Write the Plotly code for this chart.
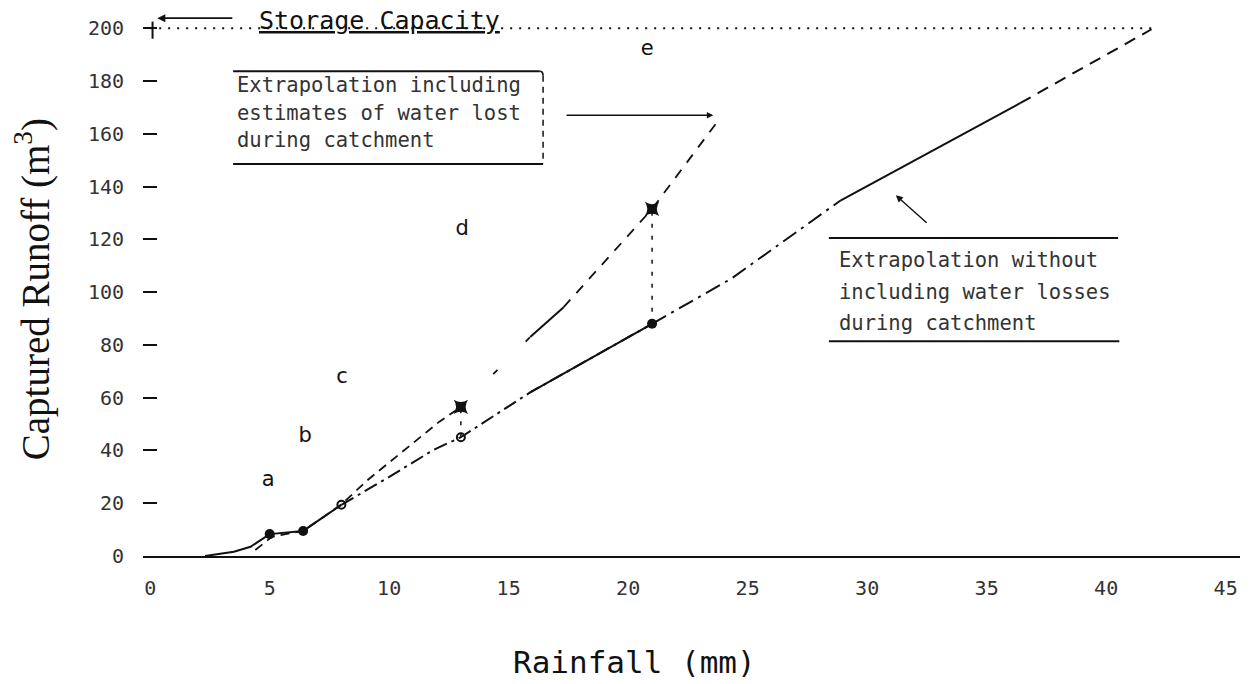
import plotly.graph_objects as go

# ---- data ----
# Extrapolation without including water losses
without_x = [2.3, 3.5, 4.2, 5.0, 6.4, 8.0, 9.9, 11.85, 13.0, 15.9, 21.0, 24.3, 28.9, 36.4, 41.9]
without_y = [0.0, 1.6, 3.5, 8.3, 9.5, 19.4, 29.4, 40.2, 45.0, 62.0, 88.0, 105.0, 134.8, 171.6, 199.6]

# Extrapolation including estimates of water lost
with_x = [4.4, 5.1, 6.4, 8.0, 9.1, 12.1, 13.0, 15.9, 17.3, 21.0, 23.85]
with_y = [2.3, 7.3, 9.5, 19.5, 28.8, 50.9, 56.5, 83.0, 94.3, 131.5, 166.0]

# measured points (filled circles)
meas_x = [5.0, 6.4, 21.0]
meas_y = [8.3, 9.5, 88.0]
# estimates including losses (star-squares)
est_x = [13.0, 21.0]
est_y = [56.5, 131.5]
# small open marks on the no-loss line
open_x = [8.0, 13.0]
open_y = [19.4, 45.0]

storage_capacity = 200
rain_ticks = [0, 5, 10, 15, 20, 25, 30, 35, 40, 45]
runoff_ticks = [0, 20, 40, 60, 80, 100, 120, 140, 160, 180, 200]

letters = ["a", "b", "c", "d", "e"]
letter_x = [4.94, 6.49, 8.03, 13.05, 20.8]
letter_y = [28.4, 45.1, 67.4, 123.5, 191.7]

box1_lines = ["Extrapolation including", "estimates of water lost", "during catchment"]
box2_lines = ["Extrapolation without", "including water losses", "during catchment"]

MONO = "DejaVu Sans Mono"
INK = "#111111"

fig = go.Figure()

# storage capacity dotted line
fig.add_trace(go.Scatter(x=[0, without_x[-1]], y=[storage_capacity, storage_capacity], mode="lines",
                         line=dict(color=INK, width=2, dash="2px,7px"), hoverinfo="skip"))
fig.add_trace(go.Scatter(x=[0.1, 0.1], y=[storage_capacity - 4, storage_capacity + 2.5], mode="lines",
                         line=dict(color=INK, width=2), hoverinfo="skip"))

# no-loss curve: solid start, dash-dot middle, solid stretch, dashed end
segs = [(0, 6, "solid"), (5, 11, "14px,5px,3px,5px"), (9, 11, "solid"),
        (10, 13, "16px,6px,3px,6px"), (12, 14, "solid"), (13, 15, "12px,8px")]
for a, b, d in segs:
    fig.add_trace(go.Scatter(x=without_x[a:b], y=without_y[a:b], mode="lines",
                             line=dict(color=INK, width=2, dash=d), hoverinfo="skip"))

# with-loss curve
fig.add_trace(go.Scatter(x=with_x[:7], y=with_y[:7], mode="lines",
                         line=dict(color=INK, width=1.8, dash="9px,6px"), hoverinfo="skip"))
fig.add_trace(go.Scatter(x=with_x[6:8], y=with_y[6:8], mode="lines",
                         line=dict(color=INK, width=1.8, dash="6px,40px"), hoverinfo="skip"))
fig.add_trace(go.Scatter(x=with_x[7:9], y=with_y[7:9], mode="lines",
                         line=dict(color=INK, width=2), hoverinfo="skip"))
fig.add_trace(go.Scatter(x=with_x[8:], y=with_y[8:], mode="lines",
                         line=dict(color=INK, width=1.8, dash="10px,9px"), hoverinfo="skip"))

# vertical connectors between estimates and measurements
for i in range(len(est_x)):
    lo = open_y[1] if i == 0 else meas_y[2]
    fig.add_trace(go.Scatter(x=[est_x[i], est_x[i]], y=[lo, est_y[i]], mode="lines",
                             line=dict(color=INK, width=1.5, dash="4px,8px"), hoverinfo="skip"))

# markers
fig.add_trace(go.Scatter(x=meas_x, y=meas_y, mode="markers",
                         marker=dict(symbol="circle", size=10, color=INK), hoverinfo="skip"))
fig.add_trace(go.Scatter(x=est_x, y=est_y, mode="markers",
                         marker=dict(symbol="star-square", size=13, color=INK), hoverinfo="skip"))
fig.add_trace(go.Scatter(x=open_x, y=open_y, mode="markers",
                         marker=dict(symbol="circle-open", size=8, color=INK, line=dict(width=2)),
                         hoverinfo="skip"))

# letter labels
fig.add_trace(go.Scatter(x=letter_x, y=letter_y, mode="text", text=letters,
                         textfont=dict(family="DejaVu Sans", size=21, color=INK), hoverinfo="skip"))

annotations = []
# box 1 text
for t, yy in zip(box1_lines, [178.4, 167.8, 157.6]):
    annotations.append(dict(x=3.55, y=yy, xref="x", yref="y", text=t, showarrow=False,
                            xanchor="left", yanchor="middle",
                            font=dict(family=MONO, size=20.5, color="#333333")))
# box 2 text
for t, yy in zip(box2_lines, [112.1, 100.0, 88.3]):
    annotations.append(dict(x=28.74, y=yy, xref="x", yref="y", text=t, showarrow=False,
                            xanchor="left", yanchor="middle",
                            font=dict(family=MONO, size=20.5, color="#333333")))
# storage capacity label and arrow
annotations.append(dict(x=4.48, y=203.0, xref="x", yref="y", text="<u>Storage Capacity</u>",
                        showarrow=False, xanchor="left", yanchor="middle",
                        font=dict(family=MONO, size=25, color=INK)))
annotations.append(dict(x=0.3, y=203.8, ax=3.5, ay=203.8, xref="x", yref="y", axref="x", ayref="y",
                        text="", showarrow=True, arrowhead=2, arrowsize=1, arrowwidth=1.6,
                        arrowcolor=INK))
# box 1 arrow
annotations.append(dict(x=23.56, y=167, ax=17.36, ay=167, xref="x", yref="y", axref="x", ayref="y",
                        text="", showarrow=True, arrowhead=2, arrowsize=0.8, arrowwidth=1.6,
                        arrowcolor=INK))
# box 2 arrow
annotations.append(dict(x=31.2, y=136.7, ax=32.55, ay=125.8, xref="x", yref="y", axref="x", ayref="y",
                        text="", showarrow=True, arrowhead=2, arrowsize=1, arrowwidth=1.4,
                        arrowcolor=INK))
# axis titles
annotations.append(dict(x=-0.101, y=0.4935, xref="paper", yref="paper",
                        text="Captured Runoff (m<sup>3</sup>)", showarrow=False, textangle=-90,
                        xanchor="center", yanchor="middle",
                        font=dict(family="Liberation Serif", size=39, color=INK)))
annotations.append(dict(x=0.4476, y=-0.196, xref="paper", yref="paper",
                        text="Rainfall (mm)", showarrow=False, xanchor="center", yanchor="middle",
                        font=dict(family=MONO, size=31, color=INK)))

shapes = [
    # box 1
    dict(type="line", xref="x", yref="y", x0=3.47, x1=16.3, y0=183.7, y1=183.7, line=dict(color=INK, width=2)),
    dict(type="line", xref="x", yref="y", x0=3.47, x1=16.44, y0=148.5, y1=148.5, line=dict(color=INK, width=2)),
    dict(type="path", xref="x", yref="y", path="M 16.3 183.7 Q 16.44 183.7 16.44 182.0",
         line=dict(color=INK, width=1.6)),
    dict(type="line", xref="x", yref="y", x0=16.44, x1=16.44, y0=182.0, y1=148.5,
         line=dict(color=INK, width=1.5, dash="6px,5px")),
    # box 2
    dict(type="line", xref="x", yref="y", x0=28.4, x1=40.5, y0=120.5, y1=120.5, line=dict(color=INK, width=2)),
    dict(type="line", xref="x", yref="y", x0=28.4, x1=40.55, y0=81.4, y1=81.4, line=dict(color=INK, width=2)),
]

fig.update_layout(
    width=1254, height=684,
    margin=dict(l=143, r=14, t=15, b=128),
    paper_bgcolor="white", plot_bgcolor="white",
    showlegend=False,
    annotations=annotations, shapes=shapes,
    xaxis=dict(range=[-0.3, 45.6], showgrid=False, zeroline=False, showline=True,
               linecolor=INK, linewidth=2, ticks="", tickvals=rain_ticks,
               ticktext=[str(v) for v in rain_ticks], ticklabelstandoff=13,
               tickfont=dict(family=MONO, size=20, color="#333333")),
    yaxis=dict(range=[0, 205], showgrid=False, zeroline=False, showline=False,
               ticks="inside", ticklen=14, tickwidth=2, tickcolor=INK,
               tickvals=runoff_ticks, ticktext=[str(v) for v in runoff_ticks],
               ticklabelstandoff=18,
               tickfont=dict(family=MONO, size=20, color="#333333")),
)

# remove the default 8px page margin so the figure sits at the window origin
fig.write_html("out.html", config={"displayModeBar": False},
               post_script="document.body.style.margin='0';document.body.style.overflow='hidden';")
